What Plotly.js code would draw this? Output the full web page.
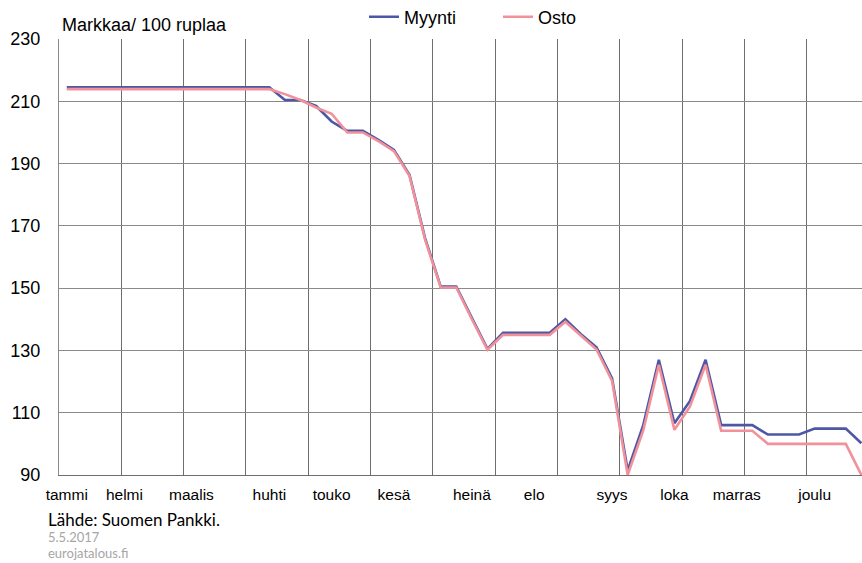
<!DOCTYPE html>
<html>
<head>
<meta charset="utf-8">
<script src="https://cdn.plot.ly/plotly-3.0.1.min.js"></script>
<style>html,body{margin:0;padding:0;background:#fff;}#chart{width:862px;height:563px;}</style>
</head>
<body>
<div id="chart"></div>
<script>
// week index (0..51)
var weeks = [];
for (var i = 0; i < 52; i++) weeks.push(i);

var myynti = [214.5,214.5,214.5,214.5,214.5,214.5,214.5,214.5,214.5,214.5,214.5,214.5,214.5,214.5,
  210.4,210.4,208.5,203.5,200.5,200.5,197.6,194.4,186.3,166,150.5,150.5,140.5,130.5,
  135.7,135.7,135.7,135.7,140,135.2,131,121,91.5,106,127,106.6,113.8,127,
  106,106,106,103,103,103,104.9,104.9,104.9,100.2];

var osto = [213.9,213.9,213.9,213.9,213.9,213.9,213.9,213.9,213.9,213.9,213.9,213.9,213.9,213.9,
  212.3,210.4,208,206,200,200,197.2,194,186,165.5,150.2,150.2,140,130.2,
  135,135,135,135,139.2,134.6,130.3,120.2,90,104.3,125.4,104.5,112,125.4,
  104.2,104.2,104.2,100,100,100,100,100,100,90];

var monthLabels = ['tammi','helmi','maalis','huhti','touko','kesä','heinä','elo','syys','loka','marras','joulu'];
var monthPos = [0, 3.7, 8, 13, 17, 21, 26, 30, 35, 39, 43, 48];

var yTicks = [90,110,130,150,170,190,210,230];

var font = 'Liberation Sans, Arial, sans-serif';
var xr = [-0.5, 51.04];

var traces = [
  {x: weeks, y: myynti, name: 'Myynti', type: 'scatter', mode: 'lines',
   line: {color: '#4D58A5', width: 2.6}},
  {x: weeks, y: osto, name: 'Osto', type: 'scatter', mode: 'lines',
   line: {color: '#F2919A', width: 2.6}},
  {x: [], y: [], xaxis: 'x2', showlegend: false, hoverinfo: 'skip'}
];

var layout = {
  width: 862, height: 563,
  margin: {l: 59, r: 0, t: 39, b: 88},
  paper_bgcolor: '#fff', plot_bgcolor: '#fff',
  font: {family: font, color: '#000'},
  showlegend: true,
  title: {text: 'Markkaa/ 100 ruplaa', font: {family: font, size: 18, color: '#000'},
          x: 62/862, xanchor: 'left', xref: 'container', y: 1 - 25/563, yanchor: 'middle', yref: 'container'},
  legend: {orientation: 'h', xref: 'container', yref: 'container', x: 364/862, xanchor: 'left',
           y: 1 - 17/563, yanchor: 'middle', font: {family: font, size: 18, color: '#000'},
           bgcolor: 'rgba(0,0,0,0)', entrywidth: 89, itemwidth: 30},
  xaxis: {range: xr, tick0: -0.5, dtick: 4, showgrid: true, gridcolor: '#6e6e6e', gridwidth: 1,
          showticklabels: false, ticks: '', zeroline: false, showline: true, linecolor: '#6e6e6e', linewidth: 1},
  xaxis2: {range: xr, overlaying: 'x', side: 'bottom', tickmode: 'array', tickvals: monthPos, ticktext: monthLabels,
           showgrid: false, zeroline: false, showline: false, ticks: '', ticklabelstandoff: 8,
           tickfont: {family: font, size: 15.5, color: '#000'}},
  yaxis: {range: [90, 230], tickmode: 'array', tickvals: yTicks, showgrid: true, gridcolor: '#8a8a8a', gridwidth: 1,
          zeroline: false, showline: true, linecolor: '#8a8a8a', linewidth: 1, ticks: '', ticklabelstandoff: 14,
          tickfont: {family: font, size: 18, color: '#000'}},
  annotations: [
    {text: 'Lähde: Suomen Pankki.', xref: 'paper', yref: 'paper', x: 0, y: 0, xanchor: 'left', yanchor: 'middle',
     xshift: -13, yshift: -44, showarrow: false, font: {family: 'Lato, Open Sans, sans-serif', size: 17, color: '#000'}},
    {text: '5.5.2017', xref: 'paper', yref: 'paper', x: 0, y: 0, xanchor: 'left', yanchor: 'middle',
     xshift: -13, yshift: -62, showarrow: false, font: {family: 'Lato, Open Sans, sans-serif', size: 13, color: '#a6a6a6'}},
    {text: 'eurojatalous.fi', xref: 'paper', yref: 'paper', x: 0, y: 0, xanchor: 'left', yanchor: 'middle',
     xshift: -13, yshift: -78, showarrow: false, font: {family: 'Lato, Open Sans, sans-serif', size: 13, color: '#a6a6a6'}}
  ]
};

Plotly.newPlot('chart', traces, layout, {staticPlot: true, displayModeBar: false});
</script>
</body>
</html>
